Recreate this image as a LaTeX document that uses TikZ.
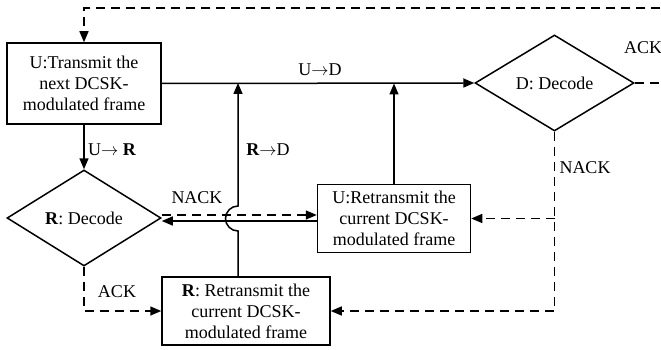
\documentclass[tikz,border=0pt]{standalone}
\usepackage{fontspec}
\setmainfont{Liberation Serif}
\usetikzlibrary{arrows.meta,shapes.geometric}

\begin{document}
\begin{tikzpicture}[x=1pt,y=-1pt,line width=1.5pt,
    >={Triangle[length=11pt,width=9pt]},
    every node/.style={font=\fontsize{18}{21}\selectfont},
    block/.style={draw,rectangle,align=center,inner sep=0pt},
    decide/.style={draw,diamond,inner sep=0pt},
    fb/.style={dash pattern=on 9pt off 6pt}]
        \clip (0,0) rectangle (661,350);
        \node[block, minimum width=154pt, minimum height=81pt] (tx) at (84,83.5) {U:Transmit the\\next DCSK-\\modulated frame};
        \node[decide, minimum width=159pt, minimum height=96pt] (dd) at (554.5,83) {D: Decode};
        \node[decide, minimum width=154pt, minimum height=96pt] (rd) at (84,218) {\textbf{R}: Decode};
        \node[block, minimum width=153pt, minimum height=68pt] (urt) at (394,218.5) {U:Retransmit the\\current DCSK-\\modulated frame};
        \node[block, minimum width=168pt, minimum height=68pt] (rrt) at (246,311) {\textbf{R}: Retransmit the\\current DCSK-\\modulated frame};

        \node (ud) at (320,70) {U$\rightarrow$D};
        \node (ur) at (112,150) {U$\rightarrow$ \textbf{R}};
        \node (rdl) at (268,150) {\textbf{R}$\rightarrow$D};
        \node (ack1) at (643,48) {ACK};
        \node (nack1) at (585,168) {NACK};
        \node (nack2) at (197,198) {NACK};
        \node (ack2) at (117,292) {ACK};

        \coordinate (j1) at (238,83);
        \coordinate (hop) at (238,231);
        \coordinate (loopb) at (670,83);
        \coordinate (loopt) at (670,8);

        \draw[->] (tx.east) -- (dd.west);
        \draw[->] (tx.south) -- (rd.north);
        \draw[->] (urt.north) -- (urt.north |- tx.east);
        \draw[->] (rrt.north -| j1) -- (hop) arc (90:270:12.5) -- (j1);
        \draw[fb,->] ([yshift=3pt]rd.east) -- ([yshift=3pt]rd.east -| urt.west);
        \draw[->] ([yshift=-3pt]rd.east -| urt.west) -- ([yshift=-3pt]rd.east);
        \draw[fb,->] (dd.south) -- (dd.south |- rrt.east) -- (rrt.east);
        \draw[fb,->] (dd.south |- urt.east) -- (urt.east);
        \draw[fb,->] (rd.south) -- (rd.south |- rrt.west) -- (rrt.west);
        \draw[fb,->] (dd.east) -- (loopb) -- (loopt) -- (tx.north |- loopt) -- (tx.north);
\end{tikzpicture}
\end{document}
